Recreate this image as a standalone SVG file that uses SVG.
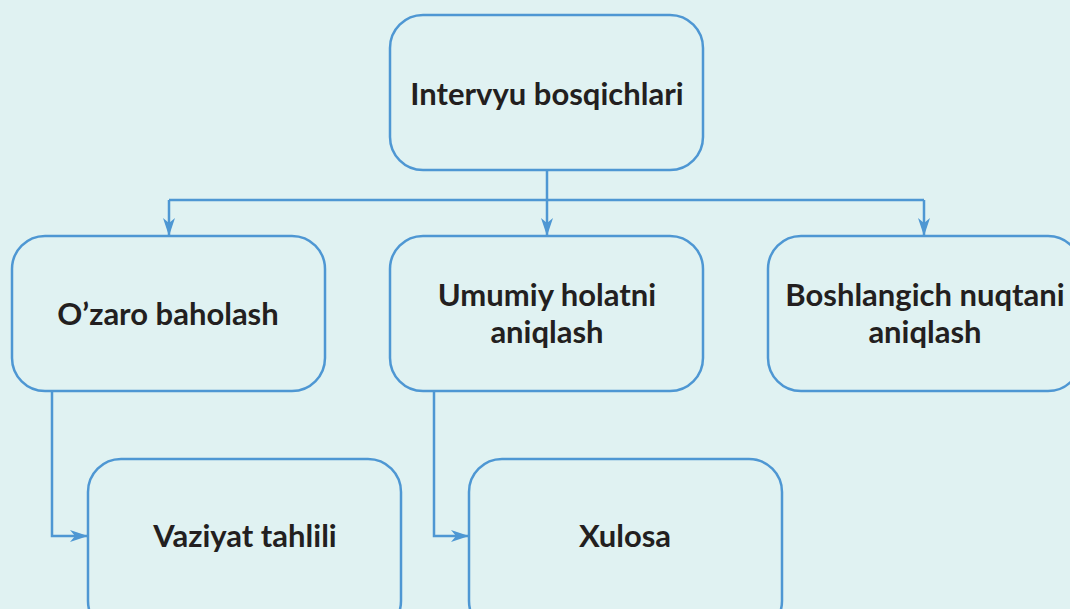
<svg xmlns="http://www.w3.org/2000/svg" width="1070" height="609" viewBox="0 0 1070 609">
<style>
.box{fill:#e0f2f2;stroke:#4e97d3;stroke-width:2.5}
.lbl{font-family:"Lato","Open Sans",sans-serif;font-weight:700;font-size:31px;fill:#231f20;text-anchor:middle}
.con{fill:none;stroke:#4e97d3;stroke-width:2.5}
</style>
<defs>
<marker id="arr" viewBox="0 0 18 12" refX="17" refY="6" markerWidth="18" markerHeight="12" markerUnits="userSpaceOnUse" orient="auto">
<path d="M0,0 L18,6 L0,12 L5,6 Z" fill="#4e97d3"/>
</marker>
</defs>
<rect width="1070" height="609" fill="#e0f2f2"/>
<g id="connectors">
<path class="con" d="M547,170 V200"/>
<path class="con" d="M169,200 H924"/>
<path class="con" d="M169,200 V235" marker-end="url(#arr)"/>
<path class="con" d="M547,200 V235" marker-end="url(#arr)"/>
<path class="con" d="M924,200 V235" marker-end="url(#arr)"/>
<path class="con" d="M52,391 V536 H87" marker-end="url(#arr)"/>
<path class="con" d="M434,391 V536 H468" marker-end="url(#arr)"/>
</g>
<g id="n-top">
<rect class="box" x="390" y="15" width="313" height="155" rx="33"/>
<text class="lbl" x="547" y="105">Intervyu bosqichlari</text>
</g>
<g id="n-ozaro">
<rect class="box" x="12" y="236" width="313" height="155" rx="33"/>
<text class="lbl" x="168" y="325">O’zaro baholash</text>
</g>
<g id="n-umumiy">
<rect class="box" x="390" y="236" width="313" height="155" rx="33"/>
<text class="lbl" x="547" y="306">Umumiy holatni</text>
<text class="lbl" x="547" y="343">aniqlash</text>
</g>
<g id="n-boshlangich">
<rect class="box" x="768" y="236" width="313" height="155" rx="33"/>
<text class="lbl" x="925" y="306">Boshlangich nuqtani</text>
<text class="lbl" x="925" y="343">aniqlash</text>
</g>
<g id="n-vaziyat">
<rect class="box" x="88" y="459" width="313" height="175" rx="33"/>
<text class="lbl" x="245" y="547">Vaziyat tahlili</text>
</g>
<g id="n-xulosa">
<rect class="box" x="469" y="459" width="313" height="175" rx="33"/>
<text class="lbl" x="625" y="547">Xulosa</text>
</g>
</svg>
